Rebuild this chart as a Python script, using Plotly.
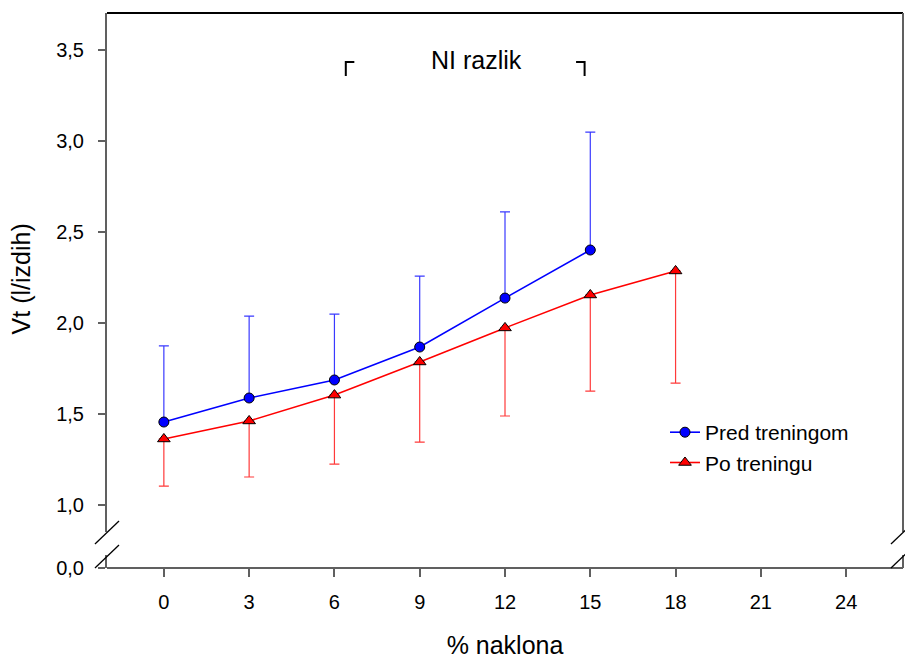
import plotly.graph_objects as go

# ---- data ----
x_pred = [0, 3, 6, 9, 12, 15]
mean_pred = [1.456, 1.588, 1.687, 1.868, 2.137, 2.401]
sd_pred = [0.418, 0.450, 0.362, 0.390, 0.473, 0.648]

x_po = [0, 3, 6, 9, 12, 15, 18]
mean_po = [1.363, 1.462, 1.604, 1.786, 1.973, 2.154, 2.286]
sd_po = [0.259, 0.308, 0.379, 0.440, 0.484, 0.528, 0.616]

x_ticks = [0, 3, 6, 9, 12, 15, 18, 21, 24]
y_ticks_upper = [1.0, 1.5, 2.0, 2.5, 3.0, 3.5]
y_ticks_lower = [0.0]

annot_text = "NI razlik"
annot_x = 11.0
annot_y = 3.445
bracket_left_x = 6.4
bracket_right_x = 14.8
bracket_top_y = 3.434
bracket_bot_y = 3.357
bracket_arm = 0.3

FONT = "Arial, Liberation Sans, sans-serif"
AX = "#606060"

fig = go.Figure()

fig.add_trace(go.Scatter(
    x=x_pred, y=mean_pred, name="Pred treningom", mode="lines+markers",
    line=dict(color="#0000ff", width=1.6),
    marker=dict(symbol="circle", size=10, color="#0000ff", line=dict(color="black", width=1)),
    error_y=dict(type="data", symmetric=False, array=sd_pred,
                 arrayminus=[0] * len(sd_pred), color="#3a3aff", thickness=1.2, width=5),
    xaxis="x", yaxis="y",
))
fig.add_trace(go.Scatter(
    x=x_po, y=mean_po, name="Po treningu", mode="lines+markers",
    line=dict(color="#ff0000", width=1.6),
    marker=dict(symbol="triangle-up", size=11, color="#ff0000", line=dict(color="black", width=1)),
    error_y=dict(type="data", symmetric=False, array=[0] * len(sd_po),
                 arrayminus=sd_po, color="#ff3a3a", thickness=1.2, width=5),
    xaxis="x", yaxis="y",
))
# invisible helper so the lower (broken) axis segment is rendered
fig.add_trace(go.Scatter(
    x=[x_ticks[0]], y=[y_ticks_lower[0]], mode="markers",
    marker=dict(size=1, opacity=0), hoverinfo="skip", showlegend=False,
    xaxis="x", yaxis="y2",
))

low_top = 0.0234
up_bot = 0.0649

fig.update_layout(
    width=905, height=659,
    margin=dict(l=107, r=2, t=13, b=91),
    paper_bgcolor="white", plot_bgcolor="white",
    separators=",.",
    font=dict(family=FONT, size=20, color="black"),
    showlegend=True,
    legend=dict(x=0.701, y=0.281, xanchor="left", yanchor="top",
                bgcolor="rgba(0,0,0,0)", font=dict(size=21), tracegroupgap=0),
    xaxis=dict(
        domain=[0, 1], range=[-2, 26], anchor="free", position=0,
        tickmode="array", tickvals=x_ticks,
        ticks="outside", ticklen=8, tickcolor=AX, tickwidth=1.5,
        ticklabelstandoff=8,
        showline=True, linecolor=AX, linewidth=2,
        showgrid=False, zeroline=False,
        tickfont=dict(size=20),
        title=dict(text="% naklona", font=dict(size=25), standoff=27),
    ),
    yaxis=dict(
        domain=[up_bot, 1], range=[0.852, 3.703], anchor="x",
        tickmode="array", tickvals=y_ticks_upper, tickformat=".1f",
        ticks="outside", ticklen=7, tickcolor=AX, tickwidth=1.5,
        ticklabelstandoff=10,
        showline=True, linecolor=AX, linewidth=2,
        showgrid=False, zeroline=False,
        tickfont=dict(size=20),
    ),
    yaxis2=dict(
        domain=[0, low_top], range=[0, 0.0714], anchor="x",
        tickmode="array", tickvals=y_ticks_lower, tickformat=".1f",
        ticks="outside", ticklen=7, tickcolor=AX, tickwidth=1.5,
        ticklabelstandoff=10,
        showline=True, linecolor=AX, linewidth=2,
        showgrid=False, zeroline=False,
        tickfont=dict(size=20),
    ),
)

fig.add_annotation(
    text="Vt (l/izdih)", textangle=-90, xref="paper", yref="paper",
    x=-0.108, y=0.52, xanchor="center", yanchor="middle", showarrow=False,
    font=dict(size=25),
)

fig.add_annotation(
    text=annot_text, x=annot_x, y=annot_y, xref="x", yref="y",
    showarrow=False, font=dict(size=25), xanchor="center", yanchor="middle",
)

# brackets
fig.add_shape(type="path", xref="x", yref="y",
              path=f"M {bracket_left_x} {bracket_bot_y} L {bracket_left_x} {bracket_top_y} L {bracket_left_x + bracket_arm} {bracket_top_y}",
              line=dict(color="black", width=2))
fig.add_shape(type="path", xref="x", yref="y",
              path=f"M {bracket_right_x - bracket_arm} {bracket_top_y} L {bracket_right_x} {bracket_top_y} L {bracket_right_x} {bracket_bot_y}",
              line=dict(color="black", width=2))

# frame: top and right borders
fig.add_shape(type="line", xref="paper", yref="paper", x0=0, x1=1, y0=1, y1=1,
              line=dict(color="black", width=2))
fig.add_shape(type="line", xref="paper", yref="paper", x0=1, x1=1, y0=up_bot, y1=1,
              line=dict(color=AX, width=2))
fig.add_shape(type="line", xref="paper", yref="paper", x0=1, x1=1, y0=0, y1=low_top,
              line=dict(color=AX, width=2))

# break marks
dx = 0.0151
for xc in (0, 1):
    fig.add_shape(type="line", xref="paper", yref="paper",
                  x0=xc - dx, x1=xc + dx, y0=0.0432, y1=0.0847,
                  line=dict(color="black", width=1.3))
    fig.add_shape(type="line", xref="paper", yref="paper",
                  x0=xc - dx, x1=xc + dx, y0=0.0, y1=0.0414,
                  line=dict(color="black", width=1.3))

fig.write_html("out.html")
